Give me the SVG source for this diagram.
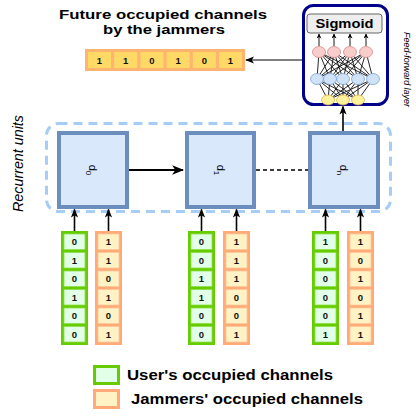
<svg xmlns="http://www.w3.org/2000/svg" width="416" height="416" viewBox="0 0 416 416">
<defs>
<style>
.t{font-family:"Liberation Sans",Arial,sans-serif;fill:#000}
.b{font-weight:bold}
.dig{font-family:"Liberation Sans",Arial,sans-serif;font-weight:bold;font-size:9.5px;text-anchor:middle;fill:#111}
.gO{fill:#66CC00}
.gC{fill:#E2FFE8;stroke:#8EE04A;stroke-width:0.8}
.oO{fill:#FFAA77}
.oC{fill:#FFF2C4;stroke:#FFC79A;stroke-width:0.8}
.unit{fill:#DAE8FC;stroke:#6C8EBF;stroke-width:4}
.conn{stroke:#000;fill:none}
.nn{stroke:#111;stroke-width:0.9}
</style>
<marker id="ah" viewBox="0 0 10 10" refX="9" refY="5" markerWidth="5" markerHeight="5" orient="auto" markerUnits="userSpaceOnUse">
<path d="M0,0 L10,5 L0,10 L3,5 Z" fill="#000"/>
</marker>
<marker id="ah2" viewBox="0 0 10 10" refX="9" refY="5" markerWidth="12" markerHeight="12" orient="auto" markerUnits="userSpaceOnUse">
<path d="M0,1 L10,5 L0,9 L2.5,5 Z" fill="#000"/>
</marker>
<marker id="ah3" viewBox="0 0 10 10" refX="9" refY="5" markerWidth="9" markerHeight="9" orient="auto" markerUnits="userSpaceOnUse">
<path d="M0,1 L10,5 L0,9 L2.5,5 Z" fill="#000"/>
</marker>
</defs>
<rect width="416" height="416" fill="#fff"/>

<!-- title -->
<g id="title">
<text class="t b" x="163" y="19" font-size="13.5" text-anchor="middle" textLength="208" lengthAdjust="spacingAndGlyphs">Future occupied channels</text>
<text class="t b" x="164" y="34" font-size="13.5" text-anchor="middle" textLength="122" lengthAdjust="spacingAndGlyphs">by the jammers</text>
</g>

<!-- output array -->
<g id="output">
<rect x="85" y="49" width="160" height="22" fill="#FFB570"/>
<rect x="88" y="52" width="23" height="16" fill="#FFD966"/>
<rect x="114.2" y="52" width="23" height="16" fill="#FFD966"/>
<rect x="140.4" y="52" width="23" height="16" fill="#FFD966"/>
<rect x="166.6" y="52" width="23" height="16" fill="#FFD966"/>
<rect x="192.8" y="52" width="23" height="16" fill="#FFD966"/>
<rect x="219" y="52" width="23" height="16" fill="#FFD966"/>
<text class="dig" x="99.5" y="63.5">1</text>
<text class="dig" x="125.7" y="63.5">1</text>
<text class="dig" x="151.9" y="63.5">0</text>
<text class="dig" x="178.1" y="63.5">1</text>
<text class="dig" x="204.3" y="63.5">0</text>
<text class="dig" x="230.5" y="63.5">1</text>
</g>

<!-- feed-forward layer -->
<g id="ffl">
<rect x="303.5" y="5.5" width="84" height="99" rx="10" fill="#fff" stroke="#00008B" stroke-width="3"/>
<rect x="307" y="14" width="75" height="19" rx="3" fill="#EEEEEE" stroke="#666" stroke-width="1"/>
<text class="t b" x="344.5" y="28" font-size="12.5" text-anchor="middle" textLength="58" lengthAdjust="spacingAndGlyphs">Sigmoid</text>
<g class="nn">
<line x1="319" y1="52" x2="317" y2="79"/><line x1="319" y1="52" x2="330" y2="79"/><line x1="319" y1="52" x2="343" y2="79"/><line x1="319" y1="52" x2="358" y2="79"/><line x1="319" y1="52" x2="373" y2="79"/>
<line x1="334" y1="52" x2="317" y2="79"/><line x1="334" y1="52" x2="330" y2="79"/><line x1="334" y1="52" x2="343" y2="79"/><line x1="334" y1="52" x2="358" y2="79"/><line x1="334" y1="52" x2="373" y2="79"/>
<line x1="350" y1="52" x2="317" y2="79"/><line x1="350" y1="52" x2="330" y2="79"/><line x1="350" y1="52" x2="343" y2="79"/><line x1="350" y1="52" x2="358" y2="79"/><line x1="350" y1="52" x2="373" y2="79"/>
<line x1="366" y1="52" x2="317" y2="79"/><line x1="366" y1="52" x2="330" y2="79"/><line x1="366" y1="52" x2="343" y2="79"/><line x1="366" y1="52" x2="358" y2="79"/><line x1="366" y1="52" x2="373" y2="79"/>
<line x1="328" y1="100" x2="317" y2="79"/><line x1="328" y1="100" x2="330" y2="79"/><line x1="328" y1="100" x2="343" y2="79"/><line x1="328" y1="100" x2="358" y2="79"/><line x1="328" y1="100" x2="373" y2="79"/>
<line x1="343" y1="100" x2="317" y2="79"/><line x1="343" y1="100" x2="330" y2="79"/><line x1="343" y1="100" x2="343" y2="79"/><line x1="343" y1="100" x2="358" y2="79"/><line x1="343" y1="100" x2="373" y2="79"/>
<line x1="358" y1="100" x2="317" y2="79"/><line x1="358" y1="100" x2="330" y2="79"/><line x1="358" y1="100" x2="343" y2="79"/><line x1="358" y1="100" x2="358" y2="79"/><line x1="358" y1="100" x2="373" y2="79"/>
</g>
<g stroke="#000" stroke-width="0.9">
<line x1="319" y1="46" x2="319" y2="34" marker-end="url(#ah)"/>
<line x1="334" y1="46" x2="334" y2="34" marker-end="url(#ah)"/>
<line x1="350" y1="46" x2="350" y2="34" marker-end="url(#ah)"/>
<line x1="366" y1="46" x2="366" y2="34" marker-end="url(#ah)"/>
</g>
<g fill="#F8CECC" stroke="#D88A8A" stroke-width="0.8">
<ellipse cx="319" cy="52" rx="6.5" ry="5.5"/><ellipse cx="334" cy="52" rx="6.5" ry="5.5"/><ellipse cx="350" cy="52" rx="6.5" ry="5.5"/><ellipse cx="366" cy="52" rx="6.5" ry="5.5"/>
</g>
<g fill="#CFE2F8" stroke="#7FA3D0" stroke-width="0.8">
<ellipse cx="317" cy="79" rx="6.5" ry="5.5"/><ellipse cx="330" cy="79" rx="6.5" ry="5.5"/><ellipse cx="343" cy="79" rx="6.5" ry="5.5"/><ellipse cx="358" cy="79" rx="6.5" ry="5.5"/><ellipse cx="373" cy="79" rx="6.5" ry="5.5"/>
</g>
<g fill="#FFF29A" stroke="#D6B656" stroke-width="0.8">
<ellipse cx="328" cy="100" rx="6.5" ry="5"/><ellipse cx="343" cy="100" rx="6.5" ry="5"/><ellipse cx="358" cy="100" rx="6.5" ry="5"/>
</g>
<text class="t" font-style="italic" font-size="9.5" transform="translate(403.5,69.5) rotate(90)" text-anchor="middle" textLength="75" lengthAdjust="spacingAndGlyphs">Feed-forward layer</text>
</g>

<!-- recurrent group -->
<g id="recurrent">
<rect x="46.5" y="123.5" width="344" height="88" rx="12" fill="none" stroke="#A6CDF5" stroke-width="3" stroke-dasharray="9,6"/>
<text class="t" font-style="italic" font-size="14" transform="translate(23,163.5) rotate(-90)" text-anchor="middle" textLength="97" lengthAdjust="spacingAndGlyphs">Recurrent units</text>
</g>

<g id="d0">
<rect class="unit" x="59" y="133" width="68" height="74"/>
<text class="t" font-size="11" transform="translate(89,170) rotate(90)" text-anchor="middle">d<tspan font-size="8" dy="3">0</tspan></text>
</g>
<g id="d1">
<rect class="unit" x="187" y="133" width="67" height="74"/>
<text class="t" font-size="11" transform="translate(217,170) rotate(90)" text-anchor="middle">d<tspan font-size="8" dy="3">1</tspan></text>
</g>
<g id="dn">
<rect class="unit" x="310" y="133" width="68" height="74"/>
<text class="t" font-size="11" transform="translate(340,170) rotate(90)" text-anchor="middle">d<tspan font-size="8" dy="3">n</tspan></text>
</g>

<!-- connectors -->
<g id="connectors">
<line class="conn" x1="302" y1="60" x2="246" y2="60" stroke-width="1.2" marker-end="url(#ah3)"/>
<line class="conn" x1="129" y1="170" x2="183" y2="170" stroke-width="2" marker-end="url(#ah2)"/>
<line class="conn" x1="256" y1="170" x2="308" y2="170" stroke-width="1.4" stroke-dasharray="4,3"/>
<line class="conn" x1="343" y1="131" x2="343" y2="106.5" stroke-width="1.6" marker-end="url(#ah3)"/>
<g stroke-width="1.6">
<line class="conn" x1="74.5" y1="231" x2="74.5" y2="209.5" marker-end="url(#ah3)"/>
<line class="conn" x1="108.5" y1="231" x2="108.5" y2="209.5" marker-end="url(#ah3)"/>
<line class="conn" x1="201.5" y1="231" x2="201.5" y2="209.5" marker-end="url(#ah3)"/>
<line class="conn" x1="236.5" y1="231" x2="236.5" y2="209.5" marker-end="url(#ah3)"/>
<line class="conn" x1="325.5" y1="231" x2="325.5" y2="209.5" marker-end="url(#ah3)"/>
<line class="conn" x1="360.5" y1="231" x2="360.5" y2="209.5" marker-end="url(#ah3)"/>
</g>
</g>

<!-- input columns -->
<g id="in-d0-user">
<rect class="gO" x="61" y="231" width="27" height="114"/>
<rect class="gC" x="64" y="234" width="21" height="15.5"/><rect class="gC" x="64" y="252.5" width="21" height="15.5"/><rect class="gC" x="64" y="271" width="21" height="15.5"/><rect class="gC" x="64" y="289.5" width="21" height="15.5"/><rect class="gC" x="64" y="308" width="21" height="15.5"/><rect class="gC" x="64" y="326.5" width="21" height="15.5"/>
<text class="dig" x="74.5" y="245.2">0</text><text class="dig" x="74.5" y="263.7">1</text><text class="dig" x="74.5" y="282.2">0</text><text class="dig" x="74.5" y="300.7">1</text><text class="dig" x="74.5" y="319.2">0</text><text class="dig" x="74.5" y="337.7">0</text>
</g>
<g id="in-d0-jam">
<rect class="oO" x="95" y="231" width="27" height="114"/>
<rect class="oC" x="98" y="234" width="21" height="15.5"/><rect class="oC" x="98" y="252.5" width="21" height="15.5"/><rect class="oC" x="98" y="271" width="21" height="15.5"/><rect class="oC" x="98" y="289.5" width="21" height="15.5"/><rect class="oC" x="98" y="308" width="21" height="15.5"/><rect class="oC" x="98" y="326.5" width="21" height="15.5"/>
<text class="dig" x="108.5" y="245.2">1</text><text class="dig" x="108.5" y="263.7">1</text><text class="dig" x="108.5" y="282.2">0</text><text class="dig" x="108.5" y="300.7">1</text><text class="dig" x="108.5" y="319.2">0</text><text class="dig" x="108.5" y="337.7">1</text>
</g>
<g id="in-d1-user">
<rect class="gO" x="188" y="231" width="27" height="114"/>
<rect class="gC" x="191" y="234" width="21" height="15.5"/><rect class="gC" x="191" y="252.5" width="21" height="15.5"/><rect class="gC" x="191" y="271" width="21" height="15.5"/><rect class="gC" x="191" y="289.5" width="21" height="15.5"/><rect class="gC" x="191" y="308" width="21" height="15.5"/><rect class="gC" x="191" y="326.5" width="21" height="15.5"/>
<text class="dig" x="201.5" y="245.2">0</text><text class="dig" x="201.5" y="263.7">0</text><text class="dig" x="201.5" y="282.2">1</text><text class="dig" x="201.5" y="300.7">1</text><text class="dig" x="201.5" y="319.2">0</text><text class="dig" x="201.5" y="337.7">0</text>
</g>
<g id="in-d1-jam">
<rect class="oO" x="223" y="231" width="27" height="114"/>
<rect class="oC" x="226" y="234" width="21" height="15.5"/><rect class="oC" x="226" y="252.5" width="21" height="15.5"/><rect class="oC" x="226" y="271" width="21" height="15.5"/><rect class="oC" x="226" y="289.5" width="21" height="15.5"/><rect class="oC" x="226" y="308" width="21" height="15.5"/><rect class="oC" x="226" y="326.5" width="21" height="15.5"/>
<text class="dig" x="236.5" y="245.2">1</text><text class="dig" x="236.5" y="263.7">1</text><text class="dig" x="236.5" y="282.2">1</text><text class="dig" x="236.5" y="300.7">0</text><text class="dig" x="236.5" y="319.2">0</text><text class="dig" x="236.5" y="337.7">1</text>
</g>
<g id="in-dn-user">
<rect class="gO" x="312" y="231" width="27" height="114"/>
<rect class="gC" x="315" y="234" width="21" height="15.5"/><rect class="gC" x="315" y="252.5" width="21" height="15.5"/><rect class="gC" x="315" y="271" width="21" height="15.5"/><rect class="gC" x="315" y="289.5" width="21" height="15.5"/><rect class="gC" x="315" y="308" width="21" height="15.5"/><rect class="gC" x="315" y="326.5" width="21" height="15.5"/>
<text class="dig" x="325.5" y="245.2">1</text><text class="dig" x="325.5" y="263.7">0</text><text class="dig" x="325.5" y="282.2">0</text><text class="dig" x="325.5" y="300.7">0</text><text class="dig" x="325.5" y="319.2">0</text><text class="dig" x="325.5" y="337.7">1</text>
</g>
<g id="in-dn-jam">
<rect class="oO" x="347" y="231" width="27" height="114"/>
<rect class="oC" x="350" y="234" width="21" height="15.5"/><rect class="oC" x="350" y="252.5" width="21" height="15.5"/><rect class="oC" x="350" y="271" width="21" height="15.5"/><rect class="oC" x="350" y="289.5" width="21" height="15.5"/><rect class="oC" x="350" y="308" width="21" height="15.5"/><rect class="oC" x="350" y="326.5" width="21" height="15.5"/>
<text class="dig" x="360.5" y="245.2">1</text><text class="dig" x="360.5" y="263.7">0</text><text class="dig" x="360.5" y="282.2">1</text><text class="dig" x="360.5" y="300.7">0</text><text class="dig" x="360.5" y="319.2">1</text><text class="dig" x="360.5" y="337.7">1</text>
</g>

<!-- legend -->
<g id="legend-user">
<rect x="94.5" y="366.5" width="24" height="17" fill="#E2FFE8" stroke="#66CC00" stroke-width="3"/>
<text class="t b" x="127" y="380" font-size="15" textLength="206" lengthAdjust="spacingAndGlyphs">User's occupied channels</text>
</g>
<g id="legend-jam">
<rect x="94.5" y="390.5" width="24" height="17" fill="#FFF2C4" stroke="#FFAA77" stroke-width="3"/>
<text class="t b" x="131" y="404" font-size="15" textLength="232" lengthAdjust="spacingAndGlyphs">Jammers' occupied channels</text>
</g>
</svg>
